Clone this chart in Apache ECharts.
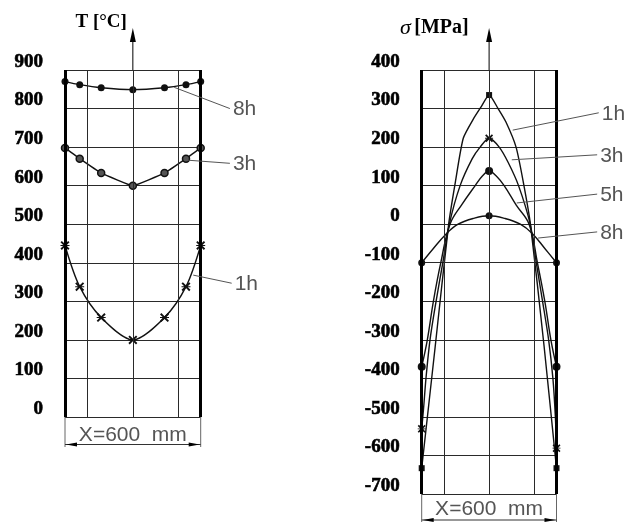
<!DOCTYPE html>
<html><head><meta charset="utf-8">
<script src="https://cdn.jsdelivr.net/npm/echarts@6/dist/echarts.min.js"></script>
<style>html,body{margin:0;padding:0;background:#fff}#c{width:627px;height:522px}</style>
</head><body><div id="c"></div>
<script>
// ---------- DATA ----------
// Temperature distribution across the 600 mm section (left panel)
const tempX  = [0, 65, 160, 300, 440, 535, 600];
const temp1h = [445, 338, 258, 200, 258, 338, 445];
const temp3h = [698, 670, 633, 600, 633, 670, 698];
const temp8h = [870, 862, 854, 849, 854, 862, 870];
const tempTicks = [0, 100, 200, 300, 400, 500, 600, 700, 800, 900];

// Stress distribution (right panel)
const stressX1h = [0, 60, 120, 150, 185, 232, 265, 300, 340, 375, 420, 452, 484, 545, 600];
const stress1h  = [-633, -318, 0, 110, 223, 275, 305, 335, 300, 265, 200, 110, 0, -318, -633];
const stressX3h = [0, 8, 19, 37, 64, 94, 123, 171, 225, 260, 300, 345, 385, 431, 483, 510, 538, 565, 584, 595, 600];
const stress3h  = [-531, -480, -400, -300, -200, -100, 0, 100, 170, 200, 223, 200, 160, 100, 0, -100, -200, -300, -400, -500, -581];
const stressX5h = [0, 25, 52, 85, 126, 180, 238, 270, 300, 332, 367, 420, 478, 515, 548, 575, 600];
const stress5h  = [-370, -300, -200, -100, 0, 52, 100, 125, 138, 125, 100, 50, 0, -100, -200, -300, -370];
const stressX8h = [0, 52, 111, 162, 230, 300, 370, 439, 492, 548, 600];
const stress8h  = [-100, -63, -24, 0, 15, 22, 15, 0, -24, -63, -100];
const stressTicks = [-700, -600, -500, -400, -300, -200, -100, 0, 100, 200, 300, 400];

const xGridMM = [100, 300, 500];   // thin vertical grid lines
const xEdgeMM = [0, 600];          // thick section edges
const markerX = [0, 300, 600];     // points carrying a marker in the stress panel
const sectionWidth = 600;

// ---------- CHART ----------
const chart = echarts.init(document.getElementById('c'), null, {renderer: 'canvas'});
const pairs = (xs, ys) => xs.map((x, i) => [x, ys[i]]);
const crossPath = 'path://M0,1.5L1.5,0L5,3.5L8.5,0L10,1.5L6.5,5L10,8.5L8.5,10L5,6.5L1.5,10L0,8.5L3.5,5Z M0,4.4L10,4.4L10,5.6L0,5.6Z';
const INK = '#111';

const axisLabelStyle = {
  fontFamily: '"Liberation Serif", "Times New Roman", serif',
  fontWeight: 'bold', fontSize: 19, color: '#000',
  textBorderColor: '#000', textBorderWidth: 0.6,
  verticalAlign: 'bottom', lineHeight: 16, margin: 22
};
function yAxisFor(g, ticks) {
  return {
    gridIndex: g, type: 'value',
    min: ticks[0], max: ticks[ticks.length - 1], interval: ticks[1] - ticks[0],
    axisLine: {show: false}, axisTick: {show: false},
    axisLabel: axisLabelStyle,
    splitLine: {show: true, lineStyle: {color: '#2a2a2a', width: 1}}
  };
}
function gridLinesMark() {
  return {
    silent: true, symbol: 'none', label: {show: false}, animation: false,
    lineStyle: {color: '#2a2a2a', width: 1, type: 'solid'},
    emphasis: {disabled: true},
    data: xGridMM.map(v => ({xAxis: v}))
      .concat(xEdgeMM.map(v => ({xAxis: v, lineStyle: {color: '#000', width: 3, type: 'solid'}})))
  };
}
function lineSeries(g, data, opts) {
  return Object.assign({
    type: 'line', xAxisIndex: g, yAxisIndex: g, data: data,
    lineStyle: {color: INK, width: 1.4}, itemStyle: {color: INK},
    animation: false, z: 3, clip: false
  }, opts);
}
const markerOnly = (sym) => (v) => markerX.includes(v[0]) ? sym : 'none';

chart.setOption({
  backgroundColor: '#fff',
  animation: false,
  grid: [
    {left: 65, top: 70, width: 135.7, height: 347},
    {left: 421.7, top: 70, width: 134.8, height: 424}
  ],
  xAxis: [
    {gridIndex: 0, type: 'value', min: 0, max: sectionWidth, show: false},
    {gridIndex: 1, type: 'value', min: 0, max: sectionWidth, show: false}
  ],
  yAxis: [yAxisFor(0, tempTicks), yAxisFor(1, stressTicks)],
  series: [
    lineSeries(0, pairs(tempX, temp8h), {name: '8h', smooth: 0.3, symbol: 'circle', symbolSize: 7, markLine: gridLinesMark()}),
    lineSeries(0, pairs(tempX, temp3h), {name: '3h', smooth: 0.1, symbol: 'circle', symbolSize: 7,
      itemStyle: {color: '#555', borderColor: '#111', borderWidth: 1.5}}),
    lineSeries(0, pairs(tempX, temp1h), {name: '1h', smooth: 0.3, symbol: crossPath, symbolSize: 9}),
    lineSeries(1, pairs(stressX1h, stress1h), {name: '1h', smooth: 0.2, symbol: markerOnly('rect'), symbolSize: 6, markLine: gridLinesMark()}),
    lineSeries(1, pairs(stressX3h, stress3h), {name: '3h', smooth: 0.3, symbol: markerOnly(crossPath), symbolSize: 8}),
    lineSeries(1, pairs(stressX5h, stress5h), {name: '5h', smooth: 0.4, symbol: markerOnly('circle'), symbolSize: 8}),
    lineSeries(1, pairs(stressX8h, stress8h), {name: '8h', smooth: 0.4, symbol: markerOnly('circle'), symbolSize: 7})
  ]
});

// ---------- ANNOTATIONS (placed via the chart's own scales) ----------
const P = (g, x, y) => chart.convertToPixel({gridIndex: g}, [x, y]);
const GRAY = '#555';
const labelFont = '21px "Liberation Sans", Arial, sans-serif';
const graphics = [];

// leader lines: [grid, startX, startY, endX, endY, text]
const leaders = [
  [0, 483, 855, 729, 800, '8h'],
  [0, 545, 666, 729, 658, '3h'],
  [0, 567, 368, 737, 347, '1h'],
  [1, 405, 244, 788, 289, '1h'],
  [1, 401, 167, 781, 180, '3h'],
  [1, 423, 55, 781, 78, '5h'],
  [1, 518, -36, 781, -20, '8h']
];
leaders.forEach(([g, x1, y1, x2, y2, t]) => {
  const a = P(g, x1, y1), b = P(g, x2, y2);
  graphics.push({type: 'line', shape: {x1: a[0], y1: a[1], x2: b[0], y2: b[1]}, style: {stroke: GRAY, lineWidth: 1}, z: 10});
  graphics.push({type: 'text', x: b[0] + 3, y: b[1] + 1, style: {text: t, font: labelFont, fill: GRAY, align: 'left', verticalAlign: 'middle'}, z: 10});
});

// vertical axis arrows + titles
[[0, tempTicks], [1, stressTicks]].forEach(([g, ticks]) => {
  const top = P(g, sectionWidth / 2, ticks[ticks.length - 1]);
  const cx = top[0], ty = top[1], tip = ty - 42;
  graphics.push({type: 'line', shape: {x1: cx, y1: tip + 8, x2: cx, y2: ty}, style: {stroke: '#000', lineWidth: 1}, z: 10});
  graphics.push({type: 'polygon', shape: {points: [[cx, tip], [cx - 3, tip + 14], [cx + 3, tip + 14]]}, style: {fill: '#000'}, z: 10});
  if (g === 0) {
    graphics.push({type: 'text', x: cx - 6, y: tip - 6, style: {text: 'T [°C]', font: 'bold 19px "Liberation Serif", serif', fill: '#000', align: 'right', verticalAlign: 'middle'}, z: 10});
  } else {
    graphics.push({type: 'text', x: cx - 89, y: tip, style: {
      text: '{s|σ} {b|[MPa]}', align: 'left', verticalAlign: 'middle',
      rich: {
        s: {fontFamily: '"Liberation Serif", serif', fontStyle: 'italic', fontSize: 22, fill: '#000', color: '#000'},
        b: {fontFamily: '"Liberation Serif", serif', fontWeight: 'bold', fontSize: 20, fill: '#000', color: '#000'}
      }}, z: 10});
  }
});

// dimension lines "X=600 mm"
[[0, tempTicks[0], 30, 27.5, 18], [1, stressTicks[0], 32, 26, 15]].forEach(([g, y0, ext, dOff, tOff]) => {
  const l = P(g, 0, y0), r = P(g, sectionWidth, y0);
  const yb = l[1], yd = yb + dOff;
  [l[0], r[0]].forEach(x => graphics.push({type: 'line', shape: {x1: x, y1: yb, x2: x, y2: yb + ext}, style: {stroke: '#666', lineWidth: 1}, z: 10}));
  graphics.push({type: 'line', shape: {x1: l[0], y1: yd, x2: r[0], y2: yd}, style: {stroke: '#333', lineWidth: 1}, z: 10});
  graphics.push({type: 'polygon', shape: {points: [[l[0] + 1, yd], [l[0] + 12, yd - 2], [l[0] + 12, yd + 2]]}, style: {fill: '#000'}, z: 10});
  graphics.push({type: 'polygon', shape: {points: [[r[0] - 1, yd], [r[0] - 12, yd - 2], [r[0] - 12, yd + 2]]}, style: {fill: '#000'}, z: 10});
  graphics.push({type: 'text', x: (l[0] + r[0]) / 2, y: yb + tOff, style: {text: 'X=600  mm', font: '21px "Liberation Sans", Arial, sans-serif', fill: GRAY, align: 'center', verticalAlign: 'middle'}, z: 10});
});

chart.setOption({graphic: graphics});
</script>
</body></html>
